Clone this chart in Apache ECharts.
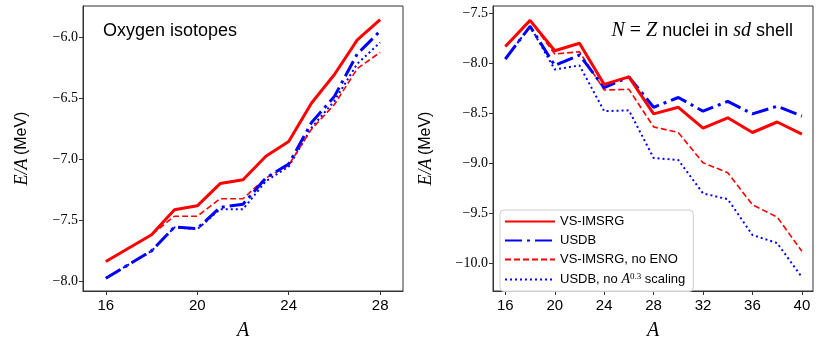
<!DOCTYPE html>
<html>
<head>
<meta charset="utf-8">
<script src="https://cdn.jsdelivr.net/npm/echarts@6/dist/echarts.min.js"></script>
<style>
  html, body { margin: 0; padding: 0; background: #fff; }
  #chart { width: 830px; height: 346px; }
</style>
</head>
<body>
<div id="chart"></div>
<script>
// left panel: oxygen isotopes
const oxA = [16, 18, 19, 20, 21, 22, 23, 24, 25, 26, 27, 28]
const oxVsImsrg = [-7.84, -7.62, -7.415, -7.383, -7.20, -7.168, -6.975, -6.854, -6.537, -6.303, -6.019, -5.852]
const oxUsdb = [-7.978, -7.753, -7.557, -7.570, -7.396, -7.369, -7.154, -7.039, -6.698, -6.483, -6.134, -5.946]
const oxNoEno = [-7.84, -7.62, -7.468, -7.468, -7.324, -7.324, -7.154, -7.047, -6.752, -6.550, -6.255, -6.121]
const oxNoScaling = [-7.978, -7.753, -7.56, -7.575, -7.41, -7.41, -7.18, -7.06, -6.74, -6.52, -6.215, -6.04]

// right panel: N = Z nuclei in sd shell
const nzA = [16, 18, 20, 22, 24, 26, 28, 30, 32, 34, 36, 38, 40]
const nzVsImsrg = [-7.833, -7.572, -7.876, -7.801, -8.212, -8.137, -8.507, -8.441, -8.650, -8.546, -8.693, -8.588, -8.709]
const nzUsdb = [-7.958, -7.631, -8.023, -7.918, -8.245, -8.137, -8.441, -8.343, -8.480, -8.382, -8.507, -8.431, -8.529]
const nzNoEno = [-7.833, -7.572, -7.908, -7.886, -8.268, -8.261, -8.637, -8.693, -8.996, -9.095, -9.416, -9.539, -9.880]
const nzNoScaling = [-7.958, -7.631, -8.062, -8.023, -8.480, -8.471, -8.948, -8.968, -9.302, -9.360, -9.718, -9.799, -10.14]

const leftXTicks = [16, 20, 24, 28]
const leftYTicks = [-8.0, -7.5, -7.0, -6.5, -6.0]
const rightXTicks = [16, 20, 24, 28, 32, 36, 40]
const rightYTicks = [-10.0, -9.5, -9.0, -8.5, -8.0, -7.5]

const names = ['VS-IMSRG', 'USDB', 'VS-IMSRG, no ENO', 'USDB, no A0.3 scaling']

const serif = '"Liberation Serif", "DejaVu Serif", serif'
const sans = '"Liberation Sans", "DejaVu Sans", sans-serif'
const axisColor = '#333'

function pairs(xs, ys) {
  return xs.map((x, i) => [x, ys[i]])
}

function minusFmt(v) {
  return (v < 0 ? '\u2212' : '') + Math.abs(v).toFixed(1)
}

const styles = [
  { color: '#ff0000', width: 3, type: 'solid' },
  { color: '#0000ff', width: 3, type: [17, 5, 3, 5] },
  { color: '#ff0000', width: 1.6, type: [6, 3] },
  { color: '#0000ff', width: 2, type: [2, 3] },
]

function makeSeries(xi, xs, arrays) {
  return arrays.map((arr, k) => ({
    name: names[k],
    type: 'line',
    xAxisIndex: xi,
    yAxisIndex: xi,
    showSymbol: false,
    symbol: 'none',
    animation: false,
    z: 10 - k,
    lineStyle: styles[k],
    itemStyle: { color: styles[k].color },
    data: pairs(xs, arr),
  }))
}

function xAxis(gi, min, max, ticks) {
  return {
    type: 'value',
    gridIndex: gi,
    min: min,
    max: max,
    name: 'A',
    nameLocation: 'middle',
    nameGap: 30,
    nameTextStyle: { fontFamily: serif, fontStyle: 'italic', fontSize: 20, color: '#000' },
    axisLine: { show: true, onZero: false, lineStyle: { color: axisColor, width: 1 } },
    axisTick: { show: true, customValues: ticks, length: 4, lineStyle: { color: axisColor } },
    axisLabel: { customValues: ticks, fontFamily: sans, fontSize: 15, color: '#000', margin: 7 },
    splitLine: { show: false },
  }
}

function yAxis(gi, min, max, ticks, gap) {
  return {
    type: 'value',
    gridIndex: gi,
    min: min,
    max: max,
    name: '{i|E/A} {s|(MeV)}',
    nameLocation: 'middle',
    nameRotate: 90,
    nameGap: gap,
    nameTextStyle: {
      rich: {
        i: { fontFamily: serif, fontStyle: 'italic', fontSize: 18, color: '#000' },
        s: { fontFamily: sans, fontSize: 16, color: '#000' },
      },
    },
    axisLine: { show: true, onZero: false, lineStyle: { color: axisColor, width: 1 } },
    axisTick: { show: true, customValues: ticks, length: 4, lineStyle: { color: axisColor } },
    axisLabel: { customValues: ticks, formatter: minusFmt, fontFamily: serif, fontSize: 14, color: '#000', margin: 5 },
    splitLine: { show: false },
  }
}

const chart = echarts.init(document.getElementById('chart'), null, { renderer: 'canvas' })

chart.setOption({
  animation: false,
  backgroundColor: '#fff',
  grid: [
    { left: 83, top: 6, width: 320, height: 291, show: true, borderColor: axisColor, borderWidth: 1 },
    { left: 493, top: 6, width: 320, height: 291, show: true, borderColor: axisColor, borderWidth: 1 },
  ],
  title: [
    {
      text: 'Oxygen isotopes',
      left: 98,
      top: 17,
      textStyle: { fontFamily: sans, fontSize: 18, fontWeight: 'normal', color: '#000' },
    },
    {
      text: '{m|N} {r|=} {m|Z} {t|nuclei in} {m|sd} {t|shell}',
      right: 32,
      top: 16,
      textStyle: {
        fontWeight: 'normal',
        rich: {
          m: { fontFamily: serif, fontStyle: 'italic', fontWeight: 'normal', fontSize: 20, color: '#000' },
          r: { fontFamily: serif, fontWeight: 'normal', fontSize: 20, color: '#000' },
          t: { fontFamily: sans, fontWeight: 'normal', fontSize: 18, color: '#000' },
        },
      },
    },
  ],
  legend: {
    data: names,
    left: 500,
    top: 210,
    orient: 'vertical',
    itemWidth: 50,
    itemHeight: 12,
    itemGap: 6,
    padding: [5, 8, 5, 4],
    backgroundColor: 'rgba(255,255,255,0.8)',
    borderColor: '#ccc',
    borderWidth: 1,
    borderRadius: 4,
    itemStyle: { opacity: 0 },
    formatter: function (name) {
      if (name === names[3]) return '{t|USDB, no }{i|A}{sup|0.3}{t| scaling}'
      return '{t|' + name + '}'
    },
    textStyle: {
      rich: {
        t: { fontFamily: sans, fontSize: 13, color: '#000' },
        i: { fontFamily: serif, fontStyle: 'italic', fontSize: 14, color: '#000' },
        sup: { fontFamily: serif, fontSize: 9, color: '#000', verticalAlign: 'top', padding: [0, 0, 6, 0] },
      },
    },
  },
  xAxis: [
    xAxis(0, 15, 29, leftXTicks),
    xAxis(1, 15, 40.9, rightXTicks),
  ],
  yAxis: [
    yAxis(0, -8.083, -5.74, leftYTicks, 52),
    yAxis(1, -10.278, -7.428, rightYTicks, 58),
  ],
  series: [
    ...makeSeries(0, oxA, [oxVsImsrg, oxUsdb, oxNoEno, oxNoScaling]),
    ...makeSeries(1, nzA, [nzVsImsrg, nzUsdb, nzNoEno, nzNoScaling]),
  ],
})
</script>
</body>
</html>
